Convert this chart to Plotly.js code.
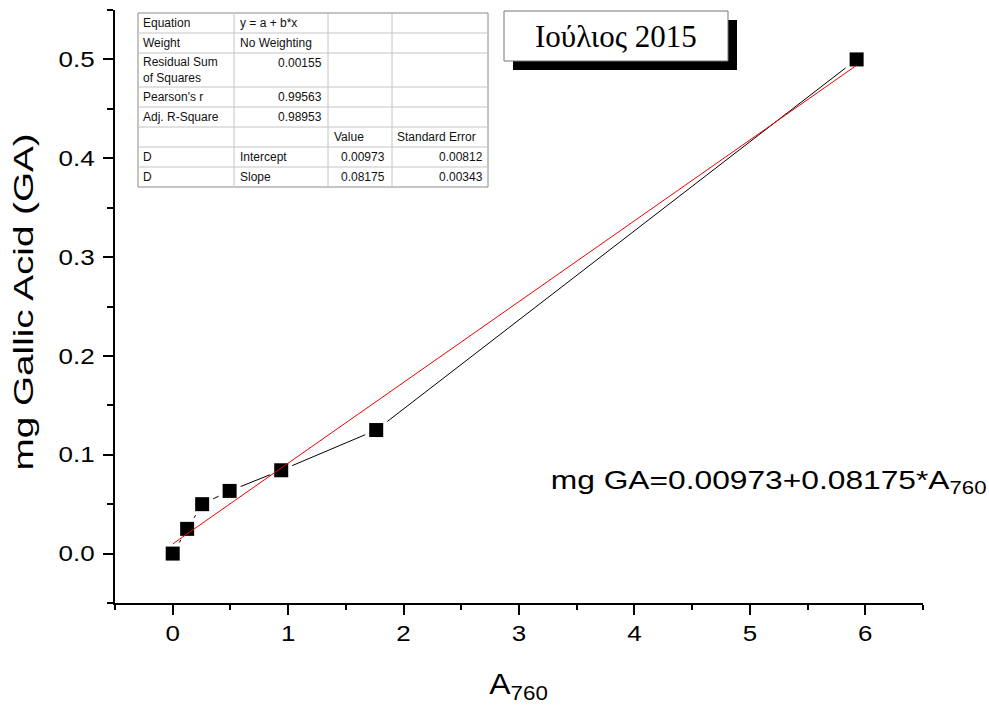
<!DOCTYPE html>
<html><head><meta charset="utf-8">
<script src="https://cdn.plot.ly/plotly-3.0.1.min.js"></script>
<style>html,body{margin:0;padding:0;background:#fff;}#chart{width:989px;height:707px;}</style>
</head><body><div id="chart"></div>
<script>
// ---- data ----
const absorbance = [0, 0.125, 0.255, 0.493, 0.94, 1.763, 5.925];
const massGA = [0, 0.025, 0.05, 0.0634, 0.0843, 0.125, 0.5];
const fitX = [0, 5.925];
const fitY = [0.00973, 0.4941];
const xTickVals = [0, 1, 2, 3, 4, 5, 6];
const yTickVals = [0, 0.1, 0.2, 0.3, 0.4, 0.5];
const tableCol1 = ["Equation", "Weight", "Residual Sum<br>of Squares", "Pearson's r", "Adj. R-Square", "", "D", "D"];
const tableCol2 = ["y = a + b*x", "No Weighting", "0.00155", "0.99563", "0.98953", "", "Intercept", "Slope"];
const tableCol3 = ["", "", "", "", "", "Value", "0.00973", "0.08175"];
const tableCol4 = ["", "", "", "", "", "Standard Error", "0.00812", "0.00343"];
const titleText = "Ιούλιος 2015";
const equationText = "mg GA=0.00973+0.08175*A<sub>760</sub>";
const xTitle = "A<sub>760</sub>";
const yTitle = "mg Gallic Acid (GA)";

// ---- pixel -> paper helpers (plot area 115..923 x 10..603) ----
const L = 115, R = 923, T = 10, B = 603;
const px = x => (x - L) / (R - L);
const py = y => (B - y) / (B - T);
const SANS = "Liberation Sans, Arial, sans-serif";

const traces = [
  {x: absorbance, y: massGA, mode: 'lines', line: {color: '#000', width: 1}, hoverinfo: 'skip', showlegend: false},
  {x: absorbance, y: massGA, mode: 'markers', marker: {symbol: 'square', size: 22, color: '#fff'}, hoverinfo: 'skip', showlegend: false},
  {x: absorbance, y: massGA, mode: 'markers', marker: {symbol: 'square', size: 14, color: '#000'}, showlegend: false},
  {x: fitX, y: fitY, mode: 'lines', line: {color: '#f00000', width: 1}, showlegend: false}
];

const shapes = [];
const annotations = [
  {xref: 'paper', yref: 'paper', x: px(769), y: py(482), text: equationText, showarrow: false,
   xanchor: 'center', yanchor: 'middle', font: {family: SANS, size: 25, color: '#000'}},
  {xref: 'paper', yref: 'paper', x: px(23), y: py(302), text: yTitle, showarrow: false, textangle: -90,
   xanchor: 'center', yanchor: 'middle', font: {family: SANS, size: 28, color: '#000'}},
  {xref: 'paper', yref: 'paper', x: px(518), y: py(686), text: xTitle, showarrow: false,
   xanchor: 'center', yanchor: 'middle', font: {family: SANS, size: 29, color: '#000'}}
];

// title box with shadow
shapes.push({type: 'rect', xref: 'paper', yref: 'paper', x0: px(513), x1: px(737), y0: py(20), y1: py(70),
  fillcolor: '#000', line: {width: 0}});
shapes.push({type: 'rect', xref: 'paper', yref: 'paper', x0: px(504), x1: px(728), y0: py(11), y1: py(61),
  fillcolor: '#fff', line: {color: '#777', width: 1}});
annotations.push({xref: 'paper', yref: 'paper', x: px(616), y: py(37), text: titleText, showarrow: false,
  xanchor: 'center', yanchor: 'middle', font: {family: 'Liberation Serif, Times New Roman, serif', size: 31, color: '#000'}});

// results table
const colX = [138, 234, 328, 392, 488];
const rowY = [13, 33, 53, 87, 107, 127, 147, 167, 187];
shapes.push({type: 'rect', xref: 'paper', yref: 'paper', x0: px(colX[0]), x1: px(colX[4]), y0: py(rowY[0]), y1: py(rowY[8]),
  fillcolor: '#fff', line: {color: '#8a8a8a', width: 1}});
for (let i = 1; i < 8; i++) {
  shapes.push({type: 'line', xref: 'paper', yref: 'paper', x0: px(colX[0]), x1: px(colX[4]), y0: py(rowY[i]), y1: py(rowY[i]),
    line: {color: '#c4c4c4', width: 1}});
}
for (let j = 1; j < 4; j++) {
  shapes.push({type: 'line', xref: 'paper', yref: 'paper', x0: px(colX[j]), x1: px(colX[j]), y0: py(rowY[0]), y1: py(rowY[8]),
    line: {color: '#c4c4c4', width: 1}});
}
function cell(text, xpix, ypix, anchor) {
  if (!text) return;
  annotations.push({xref: 'paper', yref: 'paper', x: px(xpix), y: py(ypix), text: text, showarrow: false,
    xanchor: anchor, yanchor: 'middle', align: 'left', borderpad: 0,
    font: {family: SANS, size: 12, color: '#111'}});
}
for (let i = 0; i < 8; i++) {
  const top = rowY[i], bot = rowY[i + 1];
  const mid = (top + bot) / 2;
  const numMid = (i === 2) ? top + 10 : mid;
  cell(tableCol1[i], 142, mid, 'left');
  const c2 = tableCol2[i];
  if (/^[0-9.]+$/.test(c2)) cell(c2, 323, numMid, 'right'); else cell(c2, 239, mid, 'left');
  const c3 = tableCol3[i];
  if (/^[0-9.]+$/.test(c3)) cell(c3, 386, mid, 'right'); else cell(c3, 333, mid, 'left');
  const c4 = tableCol4[i];
  if (/^[0-9.]+$/.test(c4)) cell(c4, 484, mid, 'right'); else cell(c4, 396, mid, 'left');
}

const axisCommon = {
  showgrid: false, zeroline: false, showline: true, linecolor: '#000', linewidth: 2,
  ticks: 'outside', ticklen: 10, tickwidth: 2, tickcolor: '#000',
  tickfont: {family: SANS, size: 22, color: '#000'}, fixedrange: true
};

const layout = {
  width: 989, height: 707,
  margin: {l: L, r: 989 - R, t: T, b: 707 - B, pad: 0},
  paper_bgcolor: '#fff', plot_bgcolor: '#fff',
  showlegend: false,
  xaxis: Object.assign({}, axisCommon, {
    range: [-0.5, 6.5], tickmode: 'array', tickvals: xTickVals, ticktext: xTickVals.map(String),
    minor: {dtick: 0.5, tick0: 0, ticks: 'outside', ticklen: 5, tickwidth: 2, tickcolor: '#000'}
  }),
  yaxis: Object.assign({}, axisCommon, {
    range: [-0.05, 0.55], tickmode: 'array', tickvals: yTickVals, ticktext: yTickVals.map(v => v.toFixed(1)),
    ticklabelstandoff: 4,
    minor: {dtick: 0.05, tick0: 0, ticks: 'outside', ticklen: 6, tickwidth: 2, tickcolor: '#000'}
  }),
  shapes: shapes,
  annotations: annotations
};

function stretch(el, sx) {
  const x = parseFloat(el.getAttribute('x')) || 0;
  const y = parseFloat(el.getAttribute('y')) || 0;
  const t = el.getAttribute('transform') || '';
  el.setAttribute('transform', t + ' translate(' + x + ',' + y + ') scale(' + sx + ',1) translate(' + (-x) + ',' + (-y) + ')');
}

Plotly.newPlot('chart', traces, layout, {displayModeBar: false, staticPlot: true}).then(gd => {
  gd.querySelectorAll('g.xtick text, g.ytick text').forEach(el => stretch(el, 1.18));
  const eq = gd.querySelector('g.annotation[data-index="0"] text');
  if (eq) stretch(eq, 1.27);
  const yt = gd.querySelector('g.annotation[data-index="1"] text');
  if (yt) stretch(yt, 1.38);
  const xt = gd.querySelector('g.annotation[data-index="2"] text');
  if (xt) stretch(xt, 1.1);
});
</script></body></html>
